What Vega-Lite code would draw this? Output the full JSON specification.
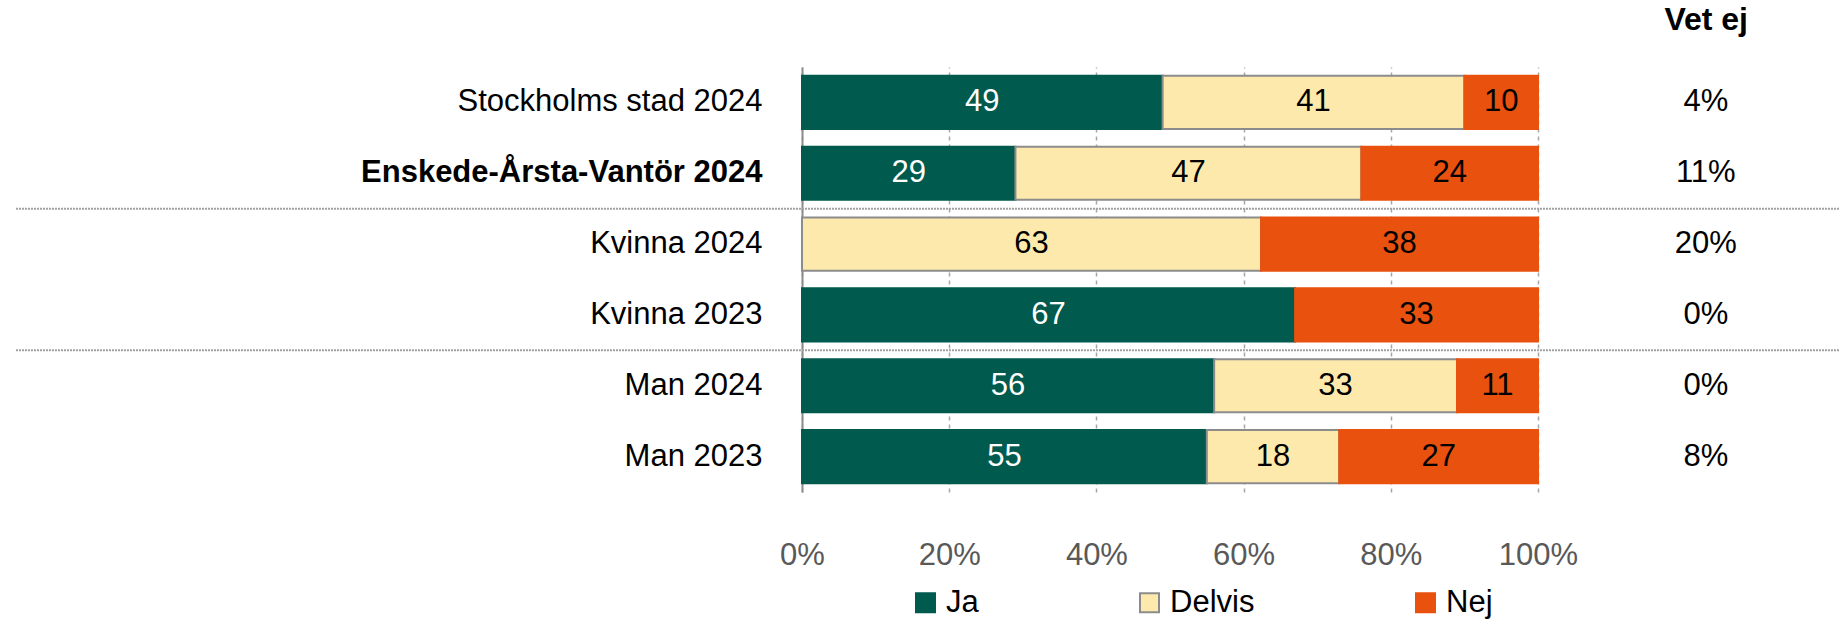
{
  "$schema": "https://vega.github.io/schema/vega-lite/v6.json",
  "width": 736,
  "height": 425,
  "autosize": {"type": "none"},
  "padding": {"left": 802, "top": 67, "right": 301, "bottom": 128},
  "background": "white",
  "config": {"font": "Liberation Sans", "view": {"stroke": null}},
  "title": {"text": "Vet ej", "anchor": "end", "frame": "group", "dx": 210, "offset": 30, "fontSize": 32, "fontWeight": "bold", "color": "black"},
  "datasets": {
    "answers": [
      {"row": "Stockholms stad 2024", "resp": "Ja", "ord": 1, "v": 49},
      {"row": "Stockholms stad 2024", "resp": "Delvis", "ord": 2, "v": 41},
      {"row": "Stockholms stad 2024", "resp": "Nej", "ord": 3, "v": 10},
      {"row": "Enskede-Årsta-Vantör 2024", "resp": "Ja", "ord": 1, "v": 29},
      {"row": "Enskede-Årsta-Vantör 2024", "resp": "Delvis", "ord": 2, "v": 47},
      {"row": "Enskede-Årsta-Vantör 2024", "resp": "Nej", "ord": 3, "v": 24},
      {"row": "Kvinna 2024", "resp": "Delvis", "ord": 2, "v": 63},
      {"row": "Kvinna 2024", "resp": "Nej", "ord": 3, "v": 38},
      {"row": "Kvinna 2023", "resp": "Ja", "ord": 1, "v": 67},
      {"row": "Kvinna 2023", "resp": "Nej", "ord": 3, "v": 33},
      {"row": "Man 2024", "resp": "Ja", "ord": 1, "v": 56},
      {"row": "Man 2024", "resp": "Delvis", "ord": 2, "v": 33},
      {"row": "Man 2024", "resp": "Nej", "ord": 3, "v": 11},
      {"row": "Man 2023", "resp": "Ja", "ord": 1, "v": 55},
      {"row": "Man 2023", "resp": "Delvis", "ord": 2, "v": 18},
      {"row": "Man 2023", "resp": "Nej", "ord": 3, "v": 27}
    ],
    "vetej": [
      {"row": "Stockholms stad 2024", "vetej": "4%"},
      {"row": "Enskede-Årsta-Vantör 2024", "vetej": "11%"},
      {"row": "Kvinna 2024", "vetej": "20%"},
      {"row": "Kvinna 2023", "vetej": "0%"},
      {"row": "Man 2024", "vetej": "0%"},
      {"row": "Man 2023", "vetej": "8%"}
    ],
    "separators": [
      {"row": "Kvinna 2024"},
      {"row": "Man 2024"}
    ]
  },
  "encoding": {
    "y": {
      "field": "row",
      "type": "nominal",
      "sort": ["Stockholms stad 2024", "Enskede-Årsta-Vantör 2024", "Kvinna 2024", "Kvinna 2023", "Man 2024", "Man 2023"],
      "scale": {"paddingInner": 0.25, "paddingOuter": 0.125},
      "axis": {
        "title": null,
        "ticks": false,
        "domain": true,
        "domainColor": "#8c8c8c",
        "domainWidth": 2,
        "labelFontSize": 31,
        "labelColor": "black",
        "labelPadding": 40,
        "labelFontWeight": {"condition": {"test": "datum.value === 'Enskede-Årsta-Vantör 2024'", "value": "bold"}, "value": "normal"},
        "labelLimit": 800
      }
    }
  },
  "layer": [
    {
      "data": {"name": "answers"},
      "transform": [
        {"stack": "v", "groupby": ["row"], "sort": [{"field": "ord", "order": "ascending"}], "offset": "normalize", "as": ["v0", "v1"]},
        {"calculate": "(datum.v0 + datum.v1) / 2", "as": "mid"}
      ],
      "layer": [
        {
          "mark": {"type": "bar", "strokeWidth": 2},
          "encoding": {
            "x": {
              "field": "v0",
              "type": "quantitative",
              "scale": {"domain": [0, 1], "nice": false},
              "axis": {
                "title": null,
                "values": [0, 0.2, 0.4, 0.6, 0.8, 1],
                "format": ".0%",
                "grid": true,
                "gridDash": [4, 4],
                "gridColor": "#a6a6a6",
                "gridWidth": 1.5,
                "domain": false,
                "ticks": false,
                "labelFontSize": 31,
                "labelColor": "#595959",
                "labelPadding": 48,
                "labelFlush": false
              }
            },
            "x2": {"field": "v1"},
            "color": {
              "field": "resp",
              "type": "nominal",
              "scale": {"domain": ["Ja", "Delvis", "Nej"], "range": ["#005A4E", "#FDE9AC", "#E9510E"]},
              "legend": {
                "title": null,
                "orient": "none",
                "direction": "horizontal",
                "legendX": 108,
                "legendY": 520,
                "labelFontSize": 31,
                "labelColor": "black",
                "symbolType": "square",
                "symbolSize": 361,
                "symbolStrokeWidth": 2,
                "labelOffset": 5,
                "columnPadding": 155
              }
            },
            "stroke": {
              "field": "resp",
              "type": "nominal",
              "scale": {"domain": ["Ja", "Delvis", "Nej"], "range": ["#005A4E", "#8c8c8c", "#E9510E"]},
              "legend": null
            }
          }
        },
        {
          "mark": {"type": "text", "fontSize": 31, "baseline": "middle", "align": "center"},
          "encoding": {
            "x": {"field": "mid", "type": "quantitative"},
            "text": {"field": "v", "type": "quantitative"},
            "color": {"condition": {"test": "datum.resp === 'Ja'", "value": "white"}, "value": "black"}
          }
        }
      ]
    },
    {
      "data": {"name": "vetej"},
      "mark": {"type": "text", "fontSize": 31, "baseline": "middle", "align": "center", "color": "black", "clip": false},
      "encoding": {
        "x": {"datum": 1.228, "type": "quantitative"},
        "text": {"field": "vetej", "type": "nominal"}
      }
    },
    {
      "data": {"name": "separators"},
      "mark": {"type": "rule", "clip": false, "color": "#a0a0a0", "strokeWidth": 2, "strokeDash": [2, 1]},
      "encoding": {
        "y": {"field": "row", "type": "nominal", "bandPosition": -0.167},
        "x": {"datum": -1.068, "type": "quantitative"},
        "x2": {"datum": 1.409}
      }
    }
  ]
}
